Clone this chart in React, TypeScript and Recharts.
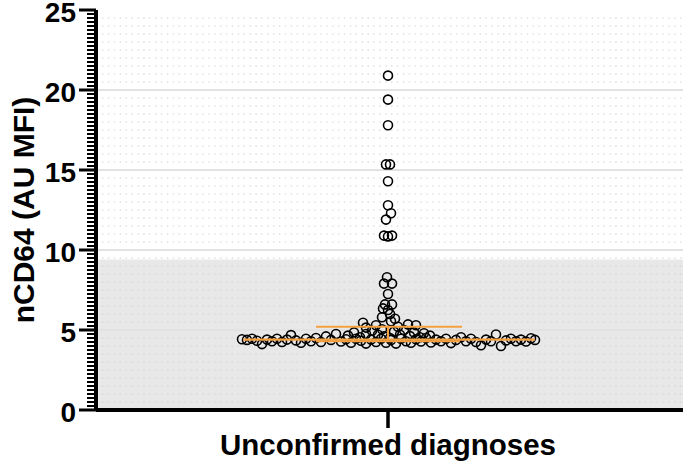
import {
  ScatterChart, Scatter, XAxis, YAxis, ReferenceLine, ReferenceArea,
} from 'recharts'

// one category, points spread beeswarm-style around it (x = offset from category centre)
const categories = ['Unconfirmed diagnoses']
const yLabels = [0, 5, 10, 15, 20, 25]

const tailPoints = [
  { x: 0, y: 20.9 }, { x: 0, y: 19.4 }, { x: 0, y: 17.8 },
  { x: -2, y: 15.35 }, { x: 2, y: 15.35 }, { x: 0, y: 14.3 },
  { x: 0, y: 12.8 }, { x: 3, y: 12.3 }, { x: -2, y: 11.9 },
  { x: -4, y: 10.9 }, { x: 0, y: 10.85 }, { x: 4, y: 10.9 },
  { x: -1, y: 8.3 }, { x: -4, y: 7.9 }, { x: 4, y: 7.9 },
  { x: 0, y: 7.25 }, { x: -3, y: 6.6 }, { x: 4, y: 6.6 },
  { x: -5, y: 6.35 }, { x: 0, y: 6.25 }, { x: 2, y: 6.0 },
  { x: -6, y: 5.8 }, { x: 7, y: 5.7 }, { x: 3, y: 5.55 },
]

const centrePoints = [
  { x: -25, y: 5.45 }, { x: -22, y: 5.15 }, { x: -12, y: 5.3 }, { x: -16, y: 4.95 },
  { x: -6, y: 5.05 }, { x: -34, y: 4.85 }, { x: -22, y: 4.75 }, { x: -10, y: 4.7 },
  { x: -40, y: 4.65 }, { x: -28, y: 4.55 }, { x: -4, y: 4.6 }, { x: 20, y: 5.35 },
  { x: 28, y: 5.3 }, { x: 10, y: 5.2 }, { x: 16, y: 5.0 }, { x: 6, y: 4.9 },
  { x: 26, y: 4.85 }, { x: 36, y: 4.8 }, { x: 12, y: 4.7 }, { x: 22, y: 4.62 },
  { x: 42, y: 4.65 }, { x: 32, y: 4.55 }, { x: 2, y: 4.5 },
]

const basePoints = [
  { x: -146, y: 4.42 }, { x: -141, y: 4.38 }, { x: -136, y: 4.45 }, { x: -131, y: 4.33 },
  { x: -126, y: 4.12 }, { x: -121, y: 4.4 }, { x: -116, y: 4.3 }, { x: -111, y: 4.45 },
  { x: -106, y: 4.25 }, { x: -101, y: 4.4 }, { x: -97, y: 4.68 }, { x: -92, y: 4.35 },
  { x: -87, y: 4.2 }, { x: -82, y: 4.45 }, { x: -77, y: 4.3 }, { x: -72, y: 4.5 },
  { x: -67, y: 4.25 }, { x: -62, y: 4.6 }, { x: -57, y: 4.38 }, { x: -52, y: 4.75 },
  { x: -47, y: 4.28 }, { x: -42, y: 4.42 }, { x: -37, y: 4.2 }, { x: -32, y: 4.45 },
  { x: -27, y: 4.33 }, { x: -22, y: 4.15 }, { x: -17, y: 4.4 }, { x: -12, y: 4.25 },
  { x: -7, y: 4.45 }, { x: -2, y: 4.2 }, { x: 3, y: 4.38 }, { x: 8, y: 4.15 },
  { x: 13, y: 4.45 }, { x: 18, y: 4.3 }, { x: 23, y: 4.2 }, { x: 28, y: 4.42 },
  { x: 33, y: 4.28 }, { x: 38, y: 4.5 }, { x: 43, y: 4.22 }, { x: 48, y: 4.4 },
  { x: 53, y: 4.3 }, { x: 58, y: 4.45 }, { x: 63, y: 4.18 }, { x: 68, y: 4.38 },
  { x: 73, y: 4.55 }, { x: 78, y: 4.3 }, { x: 83, y: 4.45 }, { x: 88, y: 4.25 },
  { x: 93, y: 4.05 }, { x: 98, y: 4.4 }, { x: 103, y: 4.3 }, { x: 108, y: 4.72 },
  { x: 113, y: 4.0 }, { x: 118, y: 4.35 }, { x: 123, y: 4.45 }, { x: 128, y: 4.3 },
  { x: 133, y: 4.4 }, { x: 138, y: 4.28 }, { x: 143, y: 4.48 }, { x: 147, y: 4.38 },
]

// median + interquartile range
const median = 4.4
const q1 = 4.3
const q3 = 5.2
const cutoff = 9.4

const FONT = '"Liberation Sans", Arial, sans-serif'
const ORANGE = '#f5a142'

const points = [...basePoints, ...centrePoints, ...tailPoints]

const yTicks: number[] = []
for (let i = 0; i <= 100; i++) yTicks.push(i / 4)
const dotRows: number[] = []
for (let i = 1; i < 50; i++) if (i % 10 !== 0) dotRows.push(i / 2)
const gridRows = yLabels.filter(v => v > 0 && v < 25)

function YTick(props: any) {
  const { x, y, payload } = props
  const v = payload.value
  const major = yLabels.includes(v)
  return (
    <g>
      <line x1={x - (major ? 17 : 9)} x2={x} y1={y} y2={y} stroke="#000" strokeWidth={major ? 3 : 2} />
      {major && (
        <text x={x - 20} y={y} dy="0.43em" textAnchor="end" fontFamily={FONT} fontWeight="bold" fontSize={28} fill="#000">
          {v}
        </text>
      )}
    </g>
  )
}

function XTick(props: any) {
  const { x, y, index } = props
  return (
    <g>
      <line x1={x} x2={x} y1={y} y2={y + 18} stroke="#000" strokeWidth={3.5} />
      <text x={x} y={y + 45} textAnchor="middle" fontFamily={FONT} fontWeight="bold" fontSize={29.5} fill="#000">
        {categories[index]}
      </text>
    </g>
  )
}

const Dot = (props: any) => (
  <circle cx={props.cx} cy={props.cy} r={4.5} fill="none" stroke="#000" strokeWidth={1.6} />
)

export default function App() {
  return (
    <div style={{ position: 'absolute', left: 0, top: 0, width: 685, height: 469, background: '#fff' }}>
      <ScatterChart width={685} height={469} margin={{ top: 10, right: 2, bottom: 0, left: 0 }}>
        <ReferenceArea y1={0} y2={cutoff} fill="#000" fillOpacity={0.09} stroke="none" />
        {dotRows.map(v => (
          <ReferenceLine key={'d' + v} y={v} stroke="#d2d2d2" strokeWidth={1.2} strokeDasharray="1.5 4.4" />
        ))}
        {gridRows.map(v => (
          <ReferenceLine key={'g' + v} y={v} stroke="#e2e2e2" strokeWidth={2} />
        ))}
        <XAxis
          dataKey="x"
          type="number"
          domain={[-292, 295]}
          ticks={[0]}
          interval={0}
          tickSize={0}
          tickMargin={0}
          tick={<XTick />}
          axisLine={{ stroke: '#000', strokeWidth: 4 }}
          tickLine={false}
          height={59}
          allowDataOverflow
        />
        <YAxis
          dataKey="y"
          type="number"
          domain={[0, 25]}
          ticks={yTicks}
          interval={0}
          tickSize={0}
          tickMargin={0}
          tick={<YTick />}
          axisLine={{ stroke: '#000', strokeWidth: 4 }}
          tickLine={false}
          width={96}
          label={{
            content: () => (
              <text x={23} y={210} transform="rotate(-90 23 210)" dy="0.36em" textAnchor="middle"
                fontFamily={FONT} fontWeight="bold" fontSize={30} fill="#000">
                nCD64 (AU MFI)
              </text>
            ),
          }}
        />
        <Scatter data={points} shape={<Dot />} isAnimationActive={false} />
        <ReferenceLine segment={[{ x: -145, y: median }, { x: 147, y: median }]} stroke={ORANGE} strokeWidth={2.2} zIndex={700} />
        <ReferenceLine segment={[{ x: -72, y: q1 }, { x: 72, y: q1 }]} stroke={ORANGE} strokeWidth={2} zIndex={700} />
        <ReferenceLine segment={[{ x: -72, y: q3 }, { x: 74, y: q3 }]} stroke={ORANGE} strokeWidth={2} zIndex={700} />
        <ReferenceLine segment={[{ x: 0, y: q1 }, { x: 0, y: q3 }]} stroke={ORANGE} strokeWidth={2} zIndex={700} />
      </ScatterChart>
    </div>
  )
}
